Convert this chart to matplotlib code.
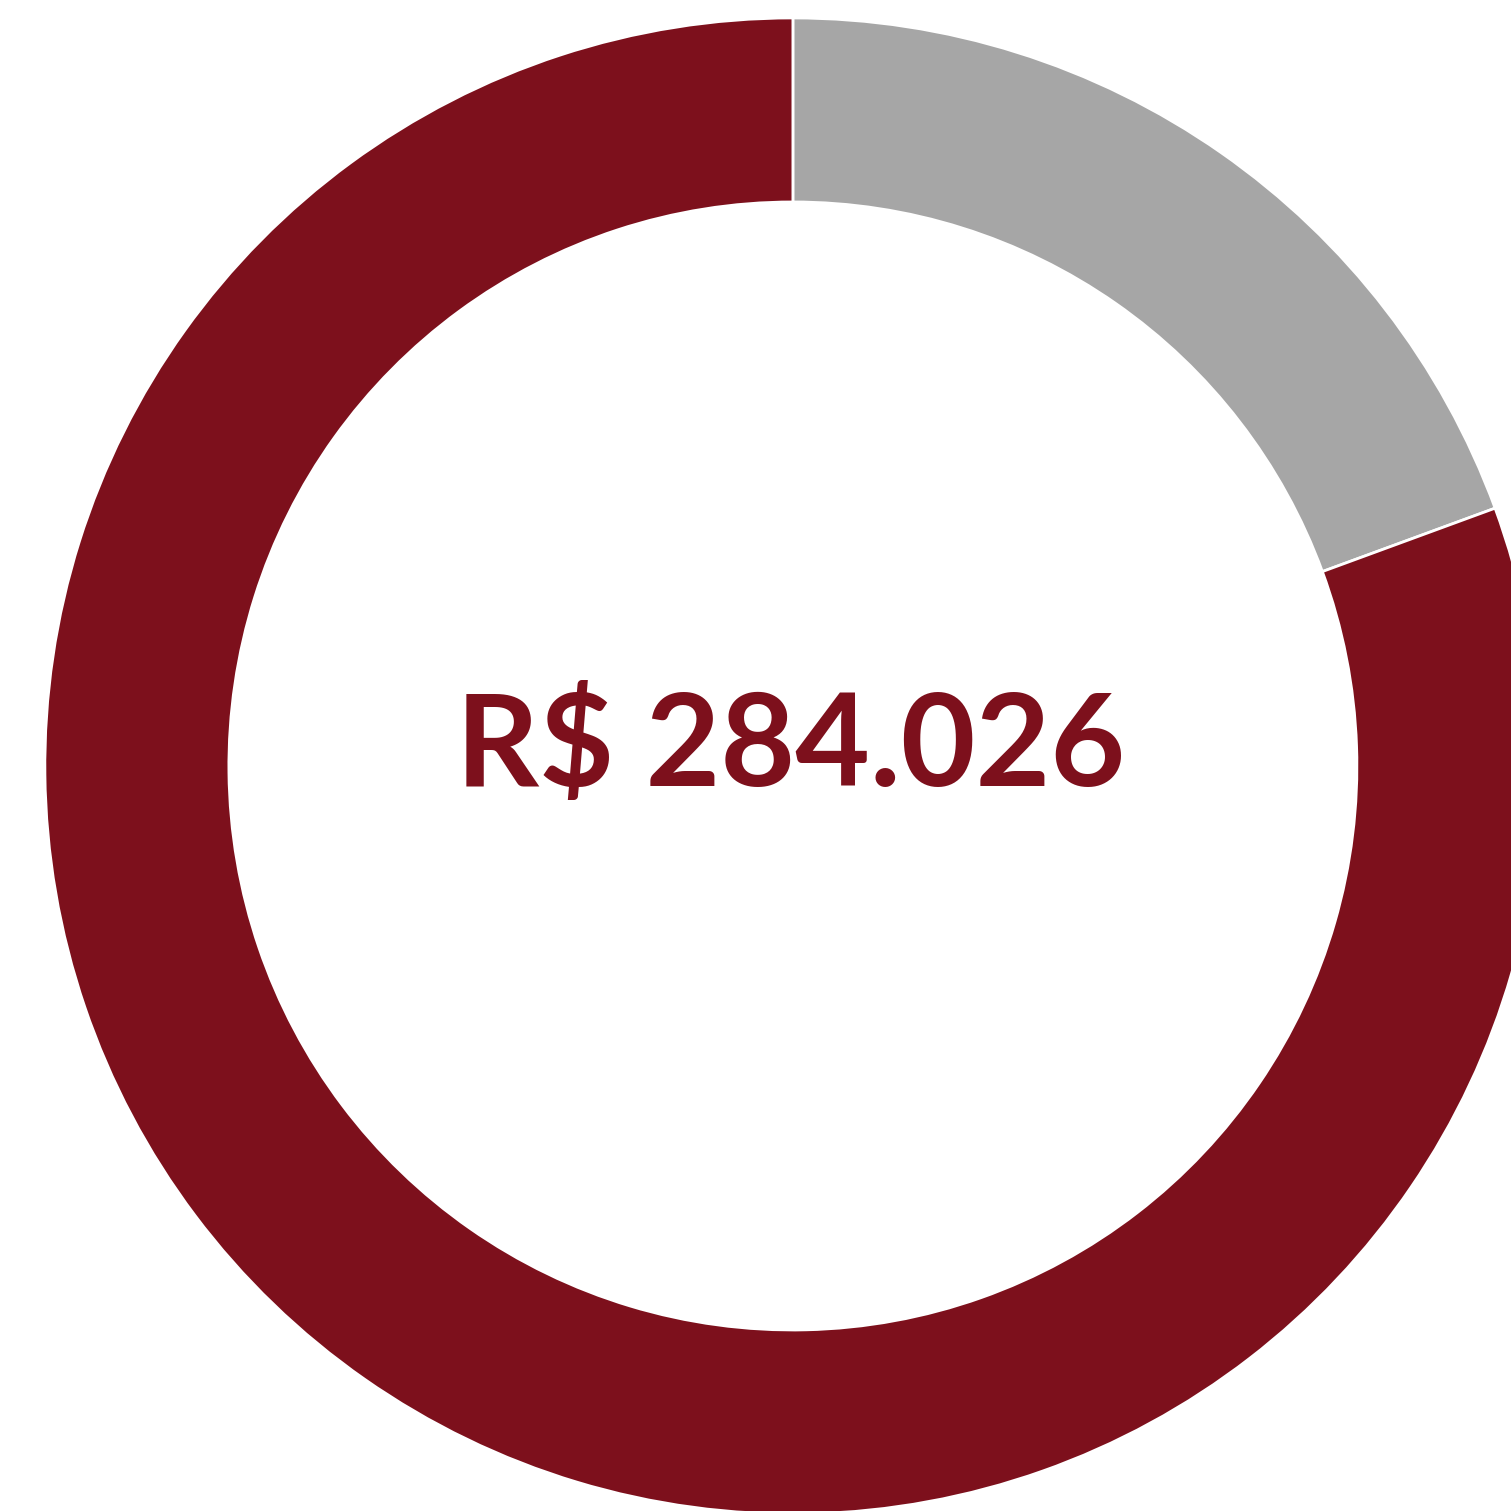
import matplotlib
matplotlib.use("Agg")
import matplotlib.pyplot as plt

labels = ["Outros", "Principal"]
values = [19.4, 80.6]
colors = ["#A6A6A6", "#7D101C"]
total_label = "R$ 284.026"

fig = plt.figure(figsize=(15.11, 15.11), dpi=100)
ax = fig.add_axes([0, 0, 1, 1])

ax.pie(values, colors=colors, startangle=90, counterclock=False,
       radius=1.0,
       wedgeprops=dict(width=0.246, edgecolor="white", linewidth=2))

ax.text(-0.003, 0.024, total_label, ha="center", va="center",
        fontsize=93, fontweight="bold", color="#7D101C", family="Lato")

ax.set_aspect("equal")
ax.set_xlim(-1.060, 0.960)
ax.set_ylim(-0.996, 1.024)
ax.axis("off")

fig.savefig("out.png", dpi=100, facecolor="white")
